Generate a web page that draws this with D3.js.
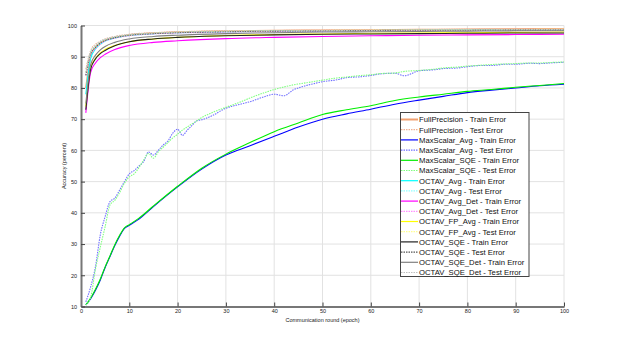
<!DOCTYPE html>
<html>
<head>
<meta charset="utf-8">
<script src="https://cdn.jsdelivr.net/npm/d3@7"></script>
<style>
body{margin:0;background:#fff;}
svg{display:block;font-family:"Liberation Sans",Arial,sans-serif;}
</style>
</head>
<body>
<svg id="chart" width="624" height="346"></svg>
<script>
// data
var xTicks=[0,10,20,30,40,50,60,70,80,90,100];
var yTicks=[10,20,30,40,50,60,70,80,90,100];

var topEpochs=[1,2,3,4,5,7,10,15,20,30,40,50,60,70,80,90,100];
var fpTrain   =[80,90,93,94.5,95.3,96.2,97,97.6,97.9,98.2,98.4,98.5,98.6,98.7,98.8,98.9,99.0];
var fpTest    =[86,92,94,95,95.7,96.5,97.2,97.7,98,98.3,98.4,98.5,98.6,98.7,98.8,98.9,99.0];
var avgTrain  =[78,89.5,92.5,94,95,96,96.8,97.4,97.7,98,98.2,98.3,98.4,98.5,98.6,98.6,98.7];
var avgTest   =[85,91.5,93.5,94.8,95.5,96.3,97,97.5,97.8,98.1,98.2,98.3,98.4,98.4,98.5,98.6,98.6];
var avgDetTrain=[72,85,88,89.7,90.8,92.3,93.6,94.6,95.1,95.8,96.2,96.5,96.7,96.9,97,97.1,97.2];
var avgDetTest =[84,90.5,92.5,94,95,95.9,96.7,97.3,97.6,97.9,98.1,98.2,98.3,98.4,98.5,98.5,98.6];
var fpAvgTrain=[74,86.5,89.5,91.2,92.3,93.6,94.8,95.7,96.2,96.8,97.1,97.3,97.5,97.6,97.7,97.8,97.9];
var fpAvgTest =[85,91,93,94.5,95.3,96.2,96.9,97.5,97.8,98.1,98.3,98.4,98.5,98.6,98.6,98.7,98.8];
var sqeTrain  =[73,86,89.3,91,92,93.5,94.8,95.7,96.2,96.7,97,97.2,97.3,97.4,97.5,97.6,97.6];
var sqeTest   =[84,91,93,94.4,95.2,96.1,96.9,97.4,97.7,98,98.2,98.3,98.4,98.5,98.5,98.6,98.6];
var sqeDetTrain=[75,87.5,90.5,92.2,93.3,94.6,95.7,96.5,96.9,97.4,97.7,97.9,98,98.1,98.2,98.3,98.3];
var sqeDetTest =[85,91.5,93.5,94.8,95.6,96.4,97.1,97.6,97.9,98.2,98.3,98.4,98.5,98.6,98.6,98.7,98.7];

var lowEpochs=[1,2,3,4,5,6,7,8,9,10,12,15,20,25,30,35,40,45,50,55,60,65,70,75,80,85,90,95,100];
var msAvgTrain=[10.5,12.5,15.2,18.5,22.5,26,29.5,32.5,35,36,38,42,48.3,54,58.5,61.5,64.5,67.5,70,71.7,73.2,74.8,76.1,77.3,78.5,79.3,80,80.7,81.2];
var msSqeTrain=[10.5,12.7,15.5,18.8,22.7,26.2,29.8,32.8,35.2,36.2,38.3,42.2,48.5,54.3,58.8,62.5,66,68.8,71.5,73,74.3,76,77.1,78,78.9,79.5,80.2,80.8,81.4];

var testEpochs=[1,2,3,4,5,6,7,8,9,10,11,12,13,14,15,16,17,18,19,20,21,22,23,24,25,27,30,33,35,38,40,42,44,46,48,50,53,55,58,60,62,65,67,70,73,75,78,80,83,85,88,90,93,95,98,100];
var msAvgTest=[11.5,16.3,22.8,33,38.8,43.6,44.7,47.3,50,52.5,53.5,55,56.5,59.5,58.5,60,61.7,63,65.5,66.8,64.8,66.5,68,69.5,69.8,71,73.5,74.8,75.6,77.2,78,77.5,79.4,80.5,81.3,82,82.6,83.3,83.6,84,84.5,84.7,83.9,85.5,85.8,86.2,86.4,86.8,87.2,87.2,87.6,87.6,87.9,87.8,88.1,88.2];
var msSqeTest=[10.5,13,22,29,35.6,42.5,44,46.5,49.5,51.5,52.5,54.5,57,59,57.5,59.5,61,62.5,64,65.2,66.5,67.5,68.5,69.5,70.5,72,73.8,75.5,76.8,78.5,79.5,80.3,81,81.5,82,82.5,83.2,83.5,84,84.2,84.6,84.8,85.3,85.6,86,86.4,86.7,87,87.3,87.5,87.7,87.8,88,88,88.2,88.3];

var seriesNames=["FullPrecision - Train Error","FullPrecision - Test Error","MaxScalar_Avg - Train Error","MaxScalar_Avg - Test Error","MaxScalar_SQE - Train Error","MaxScalar_SQE - Test Error","OCTAV_Avg - Train Error","OCTAV_Avg - Test Error","OCTAV_Avg_Det - Train Error","OCTAV_Avg_Det - Test Error","OCTAV_FP_Avg - Train Error","OCTAV_FP_Avg - Test Error","OCTAV_SQE - Train Error","OCTAV_SQE - Test Error","OCTAV_SQE_Det - Train Error","OCTAV_SQE_Det - Test Error"];
var seriesColors=["#f0a070","#f0b090","#0000ff","#7070ff","#00ee00","#80ff80","#00ffff","#90ffff","#ff00ff","#ff90ff","#ffff00","#ffff90","#222222","#555555","#808080","#c0c0c0"];

var series=[
 {x:topEpochs,y:fpTrain},{x:topEpochs,y:fpTest},
 {x:lowEpochs,y:msAvgTrain},{x:testEpochs,y:msAvgTest},
 {x:lowEpochs,y:msSqeTrain},{x:testEpochs,y:msSqeTest},
 {x:topEpochs,y:avgTrain},{x:topEpochs,y:avgTest},
 {x:topEpochs,y:avgDetTrain},{x:topEpochs,y:avgDetTest},
 {x:topEpochs,y:fpAvgTrain},{x:topEpochs,y:fpAvgTest},
 {x:topEpochs,y:sqeTrain},{x:topEpochs,y:sqeTest},
 {x:topEpochs,y:sqeDetTrain},{x:topEpochs,y:sqeDetTest}
];

var svg=d3.select("#chart");
var pLeft=81,pRight=564,pTop=25.5,pBottom=306.5;
var x=d3.scaleLinear().domain([0,100]).range([pLeft,pRight]);
var y=d3.scaleLinear().domain([10,100]).range([pBottom,pTop]);

// grid
svg.append("g").selectAll("line").data(xTicks.slice(1)).enter().append("line")
 .attr("x1",d=>x(d)).attr("x2",d=>x(d)).attr("y1",pTop).attr("y2",pBottom)
 .attr("stroke","#e2e2e2").attr("stroke-width",1);
svg.append("g").selectAll("line").data(yTicks.slice(1)).enter().append("line")
 .attr("x1",pLeft).attr("x2",pRight).attr("y1",d=>y(d)).attr("y2",d=>y(d))
 .attr("stroke","#e2e2e2").attr("stroke-width",1);

// curves
var line=d3.line().curve(d3.curveMonotoneX);
series.forEach(function(s,i){
 var pts=s.x.map((e,k)=>[x(e),y(s.y[k])]);
 var p=svg.append("path").attr("d",line(pts)).attr("fill","none")
  .attr("stroke",seriesColors[i]).attr("stroke-width",i==0?1.4:1.1);
 if(i%2==1) p.attr("stroke-dasharray","1.5,1");
});

// axes
var xAxis=d3.axisBottom(x).tickValues(xTicks).tickSizeInner(-4).tickSizeOuter(0).tickPadding(3);
var yAxis=d3.axisLeft(y).tickValues(yTicks).tickSizeInner(-4).tickSizeOuter(0).tickPadding(4);
var gx=svg.append("g").attr("transform","translate(0,"+pBottom+")").call(xAxis);
var gy=svg.append("g").attr("transform","translate("+pLeft+",0)").call(yAxis);
[gx,gy].forEach(function(g){
 g.select(".domain").attr("stroke","#777").attr("stroke-width",2);
 g.selectAll(".tick line").attr("stroke","#444");
 g.selectAll("text").attr("font-size",5.5).attr("fill","#222").attr("font-family","Liberation Sans,Arial,sans-serif");
});

svg.append("text").attr("x",(pLeft+pRight)/2).attr("y",322).attr("text-anchor","middle")
 .attr("font-size",5.5).attr("fill","#222").text("Communication round (epoch)");
svg.append("text").attr("transform","translate(66,"+(pTop+pBottom)/2+") rotate(-90)")
 .attr("text-anchor","middle").attr("font-size",5.5).attr("fill","#222").text("Accuracy (percent)");

// legend
var lg=svg.append("g");
lg.append("rect").attr("x",400.5).attr("y",112.5).attr("width",128.5).attr("height",164)
 .attr("fill","#fff").attr("stroke","#444").attr("stroke-width",1);
seriesNames.forEach(function(n,i){
 var yy=119.5+i*10.2;
 var l=lg.append("line").attr("x1",401).attr("x2",418).attr("y1",yy).attr("y2",yy)
  .attr("stroke",seriesColors[i]).attr("stroke-width",i==0?2:1.2);
 if(i%2==1) l.attr("stroke-dasharray","1.5,1");
 lg.append("text").attr("x",419).attr("y",yy+2.8).attr("font-size",7.7).attr("fill","#111").text(n);
});
</script>
</body>
</html>
